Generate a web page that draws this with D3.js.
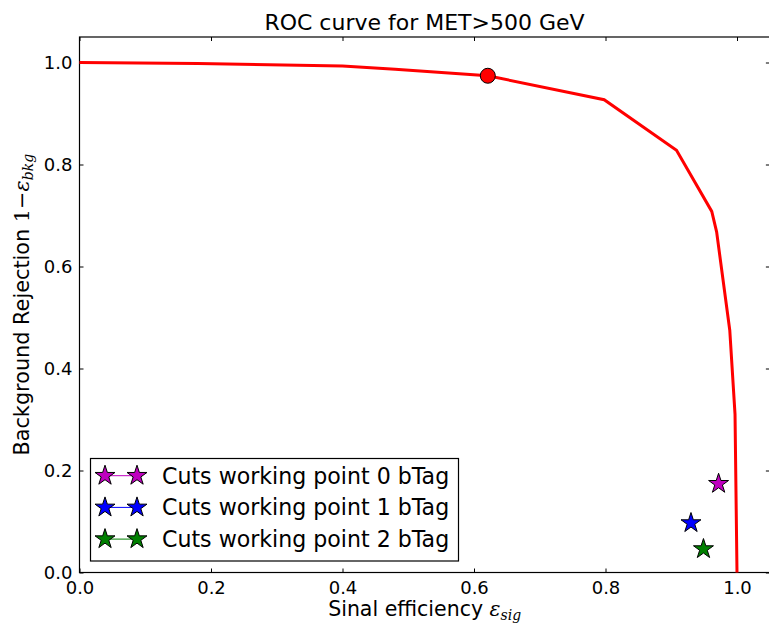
<!DOCTYPE html>
<html>
<head>
<meta charset="utf-8">
<script src="https://cdn.jsdelivr.net/npm/d3@7"></script>
<style>
  html, body { margin: 0; padding: 0; background: #fff; }
  svg { display: block; }
  text { font-family: "DejaVu Sans", sans-serif; fill: #000; }
  .math { font-family: "DejaVu Serif", serif; font-style: italic; }
</style>
</head>
<body>
<svg id="chart" width="769" height="626"></svg>
<script>
// ROC curve: signal efficiency vs. background rejection
const rocEff = [0.0, 0.18, 0.40, 0.48, 0.621, 0.798, 0.908, 0.9616, 0.969, 0.989, 0.997, 1.0];
const rocRej = [1.0, 0.998, 0.993, 0.987, 0.974, 0.927, 0.828, 0.708, 0.668, 0.475, 0.31, 0.0];

// chosen operating point on the curve
const opEff = [0.621];
const opRej = [0.974];

// cut-based working points
const wpNames = ["Cuts working point 0 bTag", "Cuts working point 1 bTag", "Cuts working point 2 bTag"];
const wpEff = [0.972, 0.930, 0.949];
const wpRej = [0.174, 0.097, 0.046];
const wpColors = ["#bf00bf", "#0000ff", "#008000"];

const xTicks = [0.0, 0.2, 0.4, 0.6, 0.8, 1.0];
const yTicks = [0.0, 0.2, 0.4, 0.6, 0.8, 1.0];

const svg = d3.select("#chart");
const plotLeft = 79.5, plotBottom = 572.5, plotTop = 37;
const x = d3.scaleLinear().domain([0, 1.05]).range([plotLeft, plotLeft + 1.05 * 657.5]);
const y = d3.scaleLinear().domain([0, 1.05]).range([plotBottom, plotTop]);
const plotRight = x.range()[1];
const fmt = d3.format(".1f");

// axes: inward ticks on all four sides, labels on bottom and left
const tickLen = 4;
const xAxisB = svg.append("g").attr("transform", `translate(0,${plotBottom})`)
  .call(d3.axisBottom(x).tickValues(xTicks).tickFormat(fmt).tickSizeInner(-tickLen).tickSizeOuter(0).tickPadding(9));
const yAxisL = svg.append("g").attr("transform", `translate(${plotLeft},0)`)
  .call(d3.axisLeft(y).tickValues(yTicks).tickFormat(fmt).tickSizeInner(-tickLen).tickSizeOuter(0).tickPadding(7));
const xAxisT = svg.append("g").attr("transform", `translate(0,${plotTop})`)
  .call(d3.axisTop(x).tickValues(xTicks).tickFormat("").tickSizeInner(-tickLen).tickSizeOuter(0));
const yAxisR = svg.append("g").attr("transform", `translate(${plotRight},0)`)
  .call(d3.axisRight(y).tickValues(yTicks).tickFormat("").tickSizeInner(-tickLen).tickSizeOuter(0));

[xAxisB, yAxisL, xAxisT, yAxisR].forEach(g => {
  g.select(".domain").remove();
  g.selectAll(".tick line").attr("stroke", "#000").attr("stroke-width", 1);
  g.selectAll(".tick text").attr("font-family", "DejaVu Sans").attr("font-size", 18).attr("fill", "#000");
});

// frame
svg.append("rect")
  .attr("x", plotLeft).attr("y", plotTop)
  .attr("width", plotRight - plotLeft).attr("height", plotBottom - plotTop)
  .attr("fill", "none").attr("stroke", "#000").attr("stroke-width", 1.2);

// ROC curve
const line = d3.line().x(d => x(d[0])).y(d => y(d[1]));
svg.append("path")
  .datum(rocEff.map((e, i) => [e, rocRej[i]]))
  .attr("d", line)
  .attr("fill", "none").attr("stroke", "#ff0000").attr("stroke-width", 3)
  .attr("stroke-linejoin", "miter");

// operating point
svg.selectAll(".op").data(opEff).enter().append("circle")
  .attr("cx", (d) => x(d)).attr("cy", (d, i) => y(opRej[i]))
  .attr("r", 7.5).attr("fill", "#ff0000").attr("stroke", "#000").attr("stroke-width", 1);

// working point stars
const starR = 10.5;
const star = d3.symbol().type(d3.symbolStar).size(starR * starR / 0.8908130915292852);
svg.selectAll(".wp").data(wpEff).enter().append("path")
  .attr("d", star)
  .attr("transform", (d, i) => `translate(${x(d)},${y(wpRej[i])})`)
  .attr("fill", (d, i) => wpColors[i]).attr("stroke", "#000").attr("stroke-width", 1);

// legend
const leg = svg.append("g");
leg.append("rect")
  .attr("x", 90.5).attr("y", 458.5).attr("width", 368).attr("height", 102.5)
  .attr("fill", "#fff").attr("stroke", "#000").attr("stroke-width", 1.2);
wpNames.forEach((name, i) => {
  const cy = 475.7 + i * 31.7;
  leg.append("line").attr("x1", 105).attr("x2", 137).attr("y1", cy).attr("y2", cy)
    .attr("stroke", wpColors[i]).attr("stroke-width", 1);
  [105, 137].forEach(cx => {
    leg.append("path").attr("d", star).attr("transform", `translate(${cx},${cy})`)
      .attr("fill", wpColors[i]).attr("stroke", "#000").attr("stroke-width", 1);
  });
  leg.append("text").attr("x", 162).attr("y", cy + 8)
    .attr("font-size", 22.1).text(name);
});

// title
svg.append("text").attr("x", 424.5).attr("y", 30).attr("text-anchor", "middle")
  .attr("font-size", 22).text("ROC curve for MET>500 GeV");

// x label
const xl = svg.append("text").attr("x", 424.7).attr("y", 616).attr("text-anchor", "middle").attr("font-size", 20.5);
xl.append("tspan").text("Sinal efficiency ");
xl.append("tspan").attr("class", "math").text("ε");
xl.append("tspan").attr("class", "math").attr("font-size", 14).attr("dy", 4).text("sig");

// y label
const yl = svg.append("text").attr("transform", `translate(29,${(plotTop + plotBottom) / 2}) rotate(-90)`)
  .attr("text-anchor", "middle").attr("font-size", 20.8);
yl.append("tspan").text("Background Rejection ");
yl.append("tspan").attr("font-family", "DejaVu Serif").text("1−");
yl.append("tspan").attr("class", "math").text("ε");
yl.append("tspan").attr("class", "math").attr("font-size", 14).attr("dy", 4).text("bkg");
</script>
</body>
</html>
